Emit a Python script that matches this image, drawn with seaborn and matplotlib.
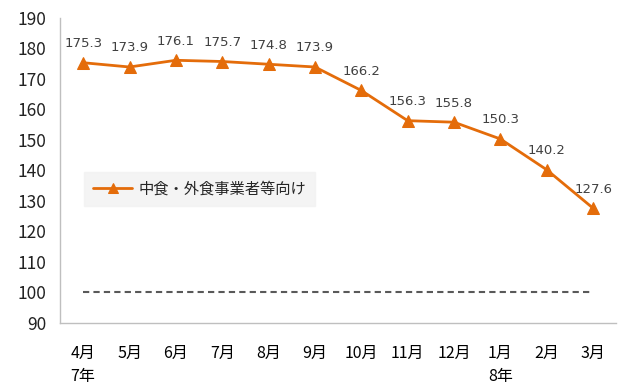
import matplotlib
matplotlib.use("Agg")
import matplotlib.pyplot as plt
import seaborn as sns
import pandas as pd

months = ["4月\n7年", "5月", "6月", "7月", "8月", "9月", "10月", "11月", "12月", "1月\n8年", "2月", "3月"]
values = [175.3, 173.9, 176.1, 175.7, 174.8, 173.9, 166.2, 156.3, 155.8, 150.3, 140.2, 127.6]
baseline = [100] * 12
series_name = "中食・外食事業者等向け"

sns.set_theme(style="white")
plt.rcParams["font.family"] = ["Noto Sans CJK JP", "DejaVu Sans"]

orange = "#E46C0A"
df = pd.DataFrame({"pos": range(len(months)), "value": values, "base": baseline})

fig = plt.figure(figsize=(6.25, 3.89), dpi=100)
ax = fig.add_axes([0.096, 0.170, 0.890, 0.784])

sns.lineplot(data=df, x="pos", y="value", ax=ax, color=orange, linewidth=2,
             marker="^", markersize=8, markeredgecolor=orange, label=series_name)
sns.lineplot(data=df, x="pos", y="base", ax=ax, color="#595959", linewidth=1.5,
             linestyle=(0, (3, 2)), legend=False)

for i, v in enumerate(values):
    ax.annotate(f"{v:.1f}", (i, v), xytext=(0, 9), textcoords="offset points",
                ha="center", va="bottom", fontsize=9.5, color="#404040",
                family=["DejaVu Sans"])

ax.set_xlim(-0.5, len(months) - 0.5)
ax.set_ylim(90, 190)
ax.set_yticks(range(90, 191, 10))
ax.set_xticks(range(len(months)))
ax.set_xticklabels(months, fontsize=11.5, color="#000000", linespacing=1.45, va="top")
ax.tick_params(axis="y", labelsize=12.5, colors="#222222", length=0, pad=10)
ax.tick_params(axis="x", length=0, pad=16)
ax.set_xlabel("")
ax.set_ylabel("")

for side in ["top", "right"]:
    ax.spines[side].set_visible(False)
for side in ["left", "bottom"]:
    ax.spines[side].set_color("#BFBFBF")
    ax.spines[side].set_linewidth(1)

leg = ax.legend(loc="upper left", bbox_to_anchor=(0.030, 0.520), frameon=True,
                fontsize=11, handlelength=2.6, borderpad=0.55, fancybox=False,
                markerscale=0.85, handletextpad=0.4)
leg.get_frame().set_facecolor("#F2F2F2")
leg.get_frame().set_edgecolor("#F2F2F2")

fig.savefig("out.png", dpi=100)
